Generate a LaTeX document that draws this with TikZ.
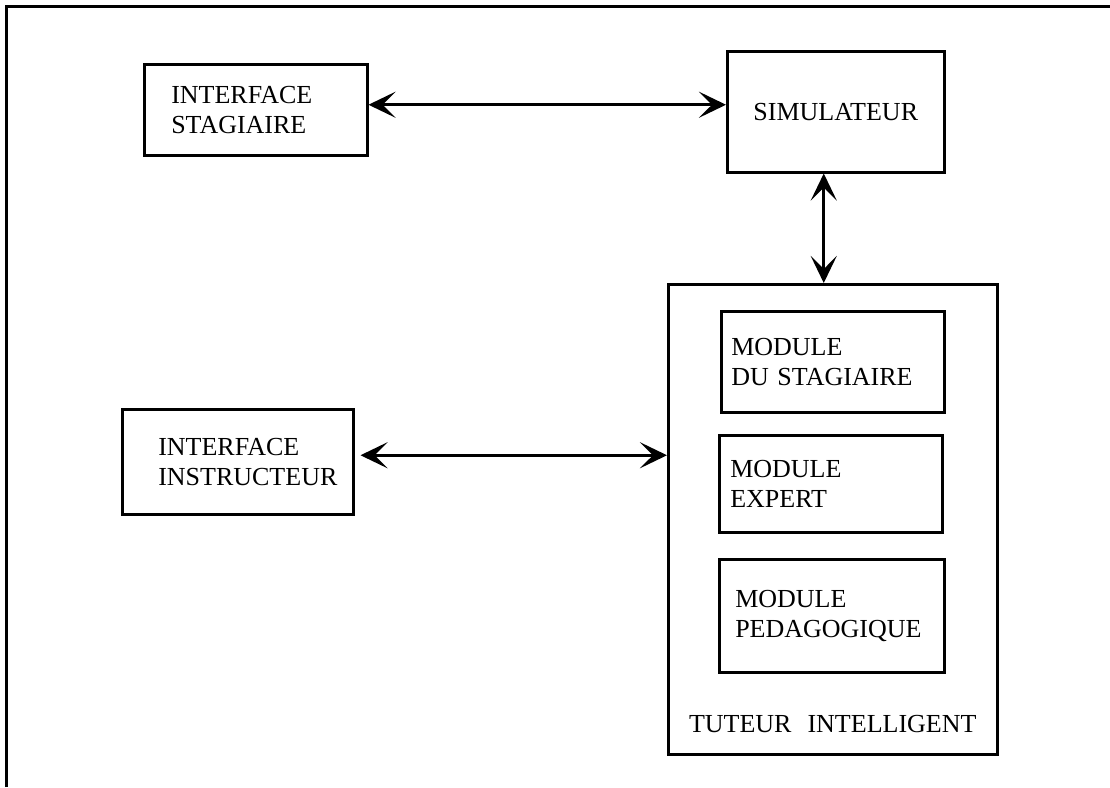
\documentclass[tikz,border=0pt]{standalone}
\usepackage{fontspec}
\setmainfont{Liberation Serif}
\usetikzlibrary{arrows.meta,calc}
\begin{document}
\begin{tikzpicture}[x=1pt,y=-1pt,
  txt/.style={font=\fontsize{26}{30}\selectfont},
  box/.style={draw, line width=2.5pt, rectangle, inner ysep=0pt, align=left, txt, anchor=north west},
  tipshape/.tip={Stealth[length=27pt,width=26pt,inset=13pt]},
  biarrow/.style={line width=3pt, arrows={tipshape-tipshape}},
  frameline/.style={line width=3pt}]
\useasboundingbox (0,0) rectangle (1110,787);
% outer frame (top and left only)
\draw[frameline] (6.5,787) -- (6.5,6.5) -- (1110,6.5);

\node[box, minimum width=223pt, minimum height=91pt, inner xsep=27pt, text width=169pt] (IS) at (143,63) {INTERFACE\\STAGIAIRE};
\node[box, align=center, minimum width=217pt, minimum height=121pt] (SIM) at (726,50) {\raisebox{-3pt}{SIMULATEUR}};
\node[box, minimum width=231pt, minimum height=105pt, inner xsep=36pt, text width=159pt] (II) at (121,408) {INTERFACE\\INSTRUCTEUR};
\node[box, minimum width=329pt, minimum height=470pt] (TI) at (667,283) {};
\node[txt, anchor=base] (TIlabel) at ($(TI.south)+(0,-23)$) {TUTEUR\hspace{16pt}INTELLIGENT};
\node[box, minimum width=223pt, minimum height=101pt, inner xsep=10pt, text width=203pt] (MS) at (720,310) {MODULE\\DU STAGIAIRE};
\node[box, minimum width=223pt, minimum height=97pt, inner xsep=11pt, text width=201pt] (ME) at (718,434) {MODULE\\EXPERT};
\node[box, minimum width=225pt, minimum height=113pt, inner xsep=16pt, text width=193pt] (MP) at (718,558) {MODULE\\PEDAGOGIQUE};

\coordinate (a1) at ($(IS.east)+(0,-5)$);
\draw[biarrow] (a1) -- (a1 -| SIM.west);
\coordinate (a2) at ($(SIM.south)+(-12,0)$);
\draw[biarrow] (a2) -- (a2 |- TI.north);
\coordinate (a3) at ($(II.east)+(6,-6.5)$);
\draw[biarrow] (a3) -- (a3 -| TI.west);
\end{tikzpicture}
\end{document}
